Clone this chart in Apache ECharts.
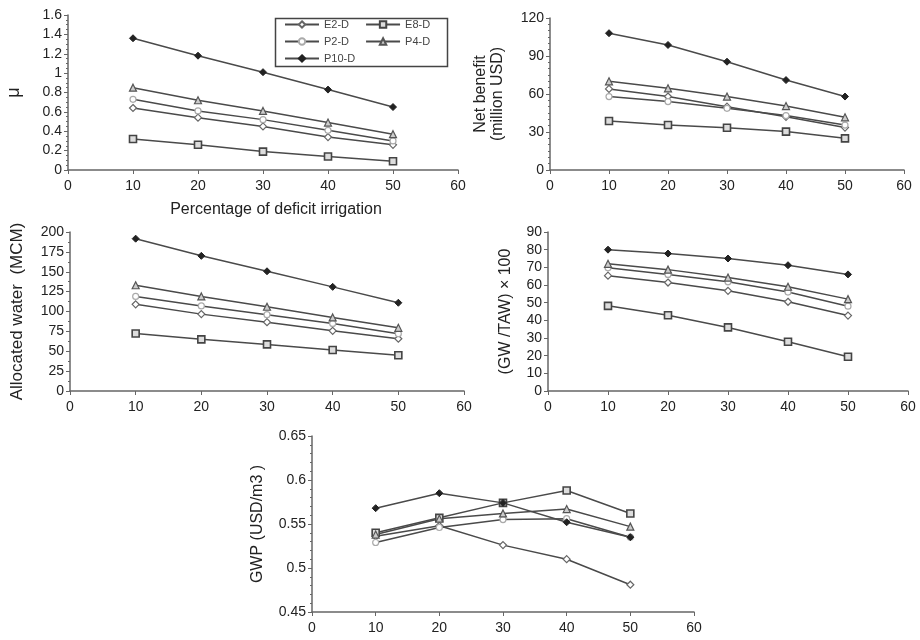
<!DOCTYPE html>
<html>
<head>
<meta charset="utf-8">
<script src="https://cdn.jsdelivr.net/npm/echarts@6/dist/echarts.min.js"></script>
<style>
  html, body { margin: 0; padding: 0; background: #fff; }
  #chart { width: 920px; height: 640px; }
</style>
</head>
<body>
<div id="chart"></div>
<script>
// x values: percentage of deficit irrigation
const pct = [10, 20, 30, 40, 50];
const seriesNames = ['E2-D', 'E8-D', 'P2-D', 'P4-D', 'P10-D'];

// μ
const muE2 = [0.64, 0.54, 0.45, 0.34, 0.26];
const muE8 = [0.32, 0.26, 0.19, 0.14, 0.09];
const muP2 = [0.73, 0.61, 0.52, 0.41, 0.30];
const muP4 = [0.85, 0.72, 0.61, 0.49, 0.37];
const muP10 = [1.36, 1.18, 1.01, 0.83, 0.65];

// Net benefit (million USD)
const nbE2 = [64, 58, 50, 42, 33.5];
const nbE8 = [38.7, 35.5, 33.4, 30.3, 25];
const nbP2 = [58, 54, 48.7, 43, 35.5];
const nbP4 = [70, 64.5, 58, 50.5, 41.6];
const nbP10 = [108, 98.7, 85.5, 71, 58];

// Allocated water (MCM)
const awE2 = [109, 96.7, 86.6, 75.7, 65.7];
const awE8 = [72.4, 65, 58.6, 51.5, 45];
const awP2 = [119, 107, 96, 85, 72];
const awP4 = [133, 119, 106, 92.5, 79.5];
const awP10 = [191.6, 170, 150.6, 131, 111];

// (GW/TAW) x 100
const gwE2 = [65.3, 61.4, 56.7, 50.5, 42.7];
const gwE8 = [48.2, 42.9, 36, 27.9, 19.4];
const gwP2 = [69.7, 66, 61.8, 56, 48];
const gwP4 = [72, 68.7, 64.2, 59, 52];
const gwP10 = [80, 77.8, 75, 71.2, 66];

// GWP (USD/m3)
const gwpE2 = [0.536, 0.548, 0.526, 0.510, 0.481];
const gwpE8 = [0.540, 0.557, 0.574, 0.588, 0.562];
const gwpP2 = [0.529, 0.546, 0.555, 0.556, 0.535];
const gwpP4 = [0.538, 0.556, 0.562, 0.567, 0.547];
const gwpP10 = [0.568, 0.585, 0.574, 0.552, 0.535];

const panels = [
  [muE2, muE8, muP2, muP4, muP10],
  [nbE2, nbE8, nbP2, nbP4, nbP10],
  [awE2, awE8, awP2, awP4, awP10],
  [gwE2, gwE8, gwP2, gwP4, gwP10],
  [gwpE2, gwpE8, gwpP2, gwpP4, gwpP10]
];

const FONT = 'Liberation Sans, Arial, sans-serif';
const lineColor = '#4a4a4a';
const axisColor = '#666';

// marker look for each scenario
const markers = {
  'E2-D': { symbol: 'diamond', symbolSize: 7, itemStyle: { color: '#fff', borderColor: '#666', borderWidth: 1.2 } },
  'E8-D': { symbol: 'rect', symbolSize: 7, itemStyle: { color: '#ddd', borderColor: '#444', borderWidth: 1.6 } },
  'P2-D': { symbol: 'circle', symbolSize: 6, itemStyle: { color: '#fff', borderColor: '#aaa', borderWidth: 1.2 } },
  'P4-D': { symbol: 'triangle', symbolSize: 7, itemStyle: { color: '#ccc', borderColor: '#555', borderWidth: 1.2 } },
  'P10-D': { symbol: 'diamond', symbolSize: 7, itemStyle: { color: '#222', borderColor: '#222', borderWidth: 1 } }
};

const grids = [
  { left: 68, top: 15, width: 390, height: 155 },
  { left: 550, top: 18, width: 354, height: 152 },
  { left: 70, top: 232, width: 394, height: 159 },
  { left: 548, top: 232, width: 360, height: 159 },
  { left: 312, top: 436, width: 382, height: 176 }
];

const fmt = v => String(Math.round(v * 100) / 100);

const xAxes = grids.map((g, i) => ({
  type: 'value', gridIndex: i, min: 0, max: 60, interval: 10,
  splitLine: { show: false },
  axisLine: { lineStyle: { color: axisColor, width: 1.5 } },
  axisTick: { length: 4, lineStyle: { color: axisColor } },
  axisLabel: { color: '#222', fontSize: 14, fontFamily: FONT, margin: 9 },
  name: i === 0 ? 'Percentage of deficit irrigation' : '',
  nameLocation: 'middle', nameGap: 32,
  nameTextStyle: { color: '#222', fontSize: 16, fontFamily: FONT, padding: [0, 0, 0, 26] }
}));

const yCfg = [
  { min: 0, max: 1.6, interval: 0.2, minor: 4, name: 'μ', size: 18, gap: 44 },
  { min: 0, max: 120, interval: 30, minor: 6, name: 'Net benefit\n(million USD)', size: 16, gap: 44 },
  { min: 0, max: 200, interval: 25, minor: 2, name: 'Allocated water  (MCM)', size: 17, gap: 44 },
  { min: 0, max: 90, interval: 10, minor: 0, name: '(GW /TAW) × 100', size: 16, gap: 34 },
  { min: 0.45, max: 0.65, interval: 0.05, minor: 5, name: 'GWP (USD/m3 )', size: 16, gap: 46 }
];

const yAxes = yCfg.map((c, i) => ({
  type: 'value', gridIndex: i, min: c.min, max: c.max, interval: c.interval,
  splitLine: { show: false },
  axisLine: { show: true, lineStyle: { color: axisColor, width: 1.5 } },
  axisTick: { show: true, length: 4, lineStyle: { color: axisColor } },
  minorTick: { show: c.minor > 0, splitNumber: c.minor || 5, length: 2, lineStyle: { color: axisColor } },
  axisLabel: { color: '#222', fontSize: 14, fontFamily: FONT, margin: 6, formatter: fmt },
  name: c.name, nameLocation: 'middle', nameRotate: 90, nameGap: c.gap,
  nameTextStyle: { color: '#222', fontSize: c.size, fontFamily: FONT, lineHeight: c.size + 1 }
}));

const series = [];
panels.forEach((set, i) => {
  set.forEach((vals, k) => {
    const name = seriesNames[k];
    series.push(Object.assign({
      name: name, type: 'line', xAxisIndex: i, yAxisIndex: i,
      data: pct.map((x, j) => [x, vals[j]]),
      showAllSymbol: true, animation: false,
      lineStyle: { color: lineColor, width: 1.5 }
    }, markers[name]));
  });
});

// legend split in three rows, framed by one box
const legendRows = [['E2-D', 'E8-D'], ['P2-D', 'P4-D'], ['P10-D']];
const legends = legendRows.map((row, r) => ({
  data: row, left: 279, top: 14 + r * 17, itemGap: 16,
  itemWidth: 34, itemHeight: 8, selectedMode: false,
  textStyle: { color: '#444', fontSize: 11, fontFamily: FONT }
}));

const chart = echarts.init(document.getElementById('chart'), null, { renderer: 'canvas' });
chart.setOption({
  backgroundColor: '#fff',
  animation: false,
  grid: grids,
  xAxis: xAxes,
  yAxis: yAxes,
  legend: legends,
  graphic: [{
    type: 'rect', left: 273, top: 16,
    shape: { width: 172, height: 48 },
    style: { fill: 'none', stroke: '#444', lineWidth: 1.5 }
  }],
  series: series
});
</script>
</body>
</html>
